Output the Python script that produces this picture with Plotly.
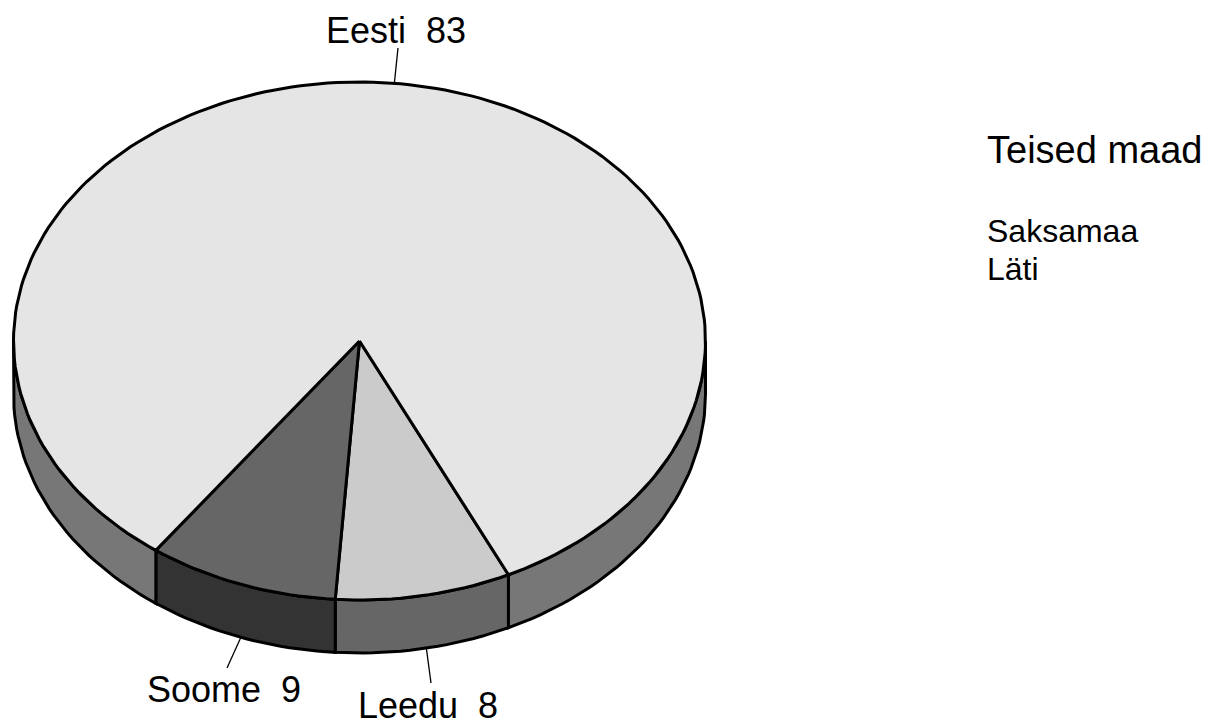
import numpy as np
import plotly.graph_objects as go

# Data (slice shares; labels show them rounded)
countries = ["Leedu", "Soome", "Eesti"]
values = [8.2, 8.9, 82.9]
top_colors = ["#cbcbcb", "#666666", "#e5e5e5"]
side_colors = ["#666666", "#333333", "#777777"]
others_title = "Teised maad"
others = ["Saksamaa", "Läti"]

# Pie geometry (pixel-space axes)
W, H = 1210, 722
cx, cy, rx, ry, depth = 359.5, 341, 346, 259, 53
start_deg = 64.5
LW = 3

label_pos = {"Leedu": (428, 705), "Soome": (224, 689), "Eesti": (396, 30)}
leader_end = {"Leedu": (431, 683), "Soome": (227, 668), "Eesti": (398, 48)}
leader_nudge = {"Leedu": -0.4, "Soome": 0.0, "Eesti": 0.5}


def arc(a, b, dy=0.0):
    n = max(2, int(abs(b - a) / 1.5) + 1)
    t = np.radians(np.linspace(a, b, n))
    return cx + rx * np.cos(t), cy + dy + ry * np.sin(t)


fig = go.Figure()
total = sum(values)
a = start_deg
spans = []
for name, v, tc, sc in zip(countries, values, top_colors, side_colors):
    b = a + 360 * v / total
    spans.append((name, a, b, tc, sc))
    a = b

# Side walls: only the front half of the rim
for name, a, b, tc, sc in spans:
    for lo, hi in ((0, 180), (360, 540)):
        s, e = max(a, lo), min(b, hi)
        if e <= s:
            continue
        x1, y1 = arc(s, e)
        x2, y2 = arc(e, s, depth)
        fig.add_trace(go.Scatter(
            x=np.r_[x1, x2, x1[0]], y=np.r_[y1, y2, y1[0]], mode="lines",
            fill="toself", fillcolor=sc, line=dict(color="#000", width=LW),
            hoverinfo="skip", showlegend=False))

# Top faces
for name, a, b, tc, sc in spans:
    x1, y1 = arc(a, b)
    fig.add_trace(go.Scatter(
        x=np.r_[cx, x1, cx], y=np.r_[cy, y1, cy], mode="lines",
        fill="toself", fillcolor=tc, line=dict(color="#000", width=LW),
        name=name, hoverinfo="skip", showlegend=False))

# Leader lines and labels
annotations = []
for (name, a, b, tc, sc), v in zip(spans, values):
    mid = np.radians((a + b) / 2 + leader_nudge[name])
    sy = cy + ry * np.sin(mid) + (depth if np.sin(mid) > 0 else 0)
    sx = cx + rx * np.cos(mid)
    ex, ey = leader_end[name]
    fig.add_trace(go.Scatter(x=[sx, ex], y=[sy, ey], mode="lines",
                             line=dict(color="#000", width=1.3),
                             hoverinfo="skip", showlegend=False))
    lx, ly = label_pos[name]
    annotations.append(dict(x=lx, y=ly, text=f"{name}\u00a0\u00a0{v:.0f}", xref="x", yref="y",
                            showarrow=False, xanchor="center", yanchor="middle",
                            font=dict(size=36, color="#000")))

annotations.append(dict(x=985, y=150, text=others_title, xref="x", yref="y", showarrow=False,
                        xanchor="left", yanchor="middle", font=dict(size=38, color="#000")))
for txt, yy in zip(others, (231, 269)):
    annotations.append(dict(x=985, y=yy, text=txt, xref="x", yref="y", showarrow=False,
                            xanchor="left", yanchor="middle", font=dict(size=32, color="#000")))

fig.update_layout(
    width=W, height=H, margin=dict(l=0, r=0, t=0, b=0),
    paper_bgcolor="#fff", plot_bgcolor="#fff",
    font=dict(family="Liberation Sans, Arial, sans-serif"),
    xaxis=dict(range=[0, W], visible=False, fixedrange=True),
    yaxis=dict(range=[H, 0], visible=False, fixedrange=True),
    annotations=annotations, showlegend=False)
fig.write_html("out.html", config=dict(displayModeBar=False),
               post_script="document.body.style.margin='0';document.body.style.overflow='hidden';")
